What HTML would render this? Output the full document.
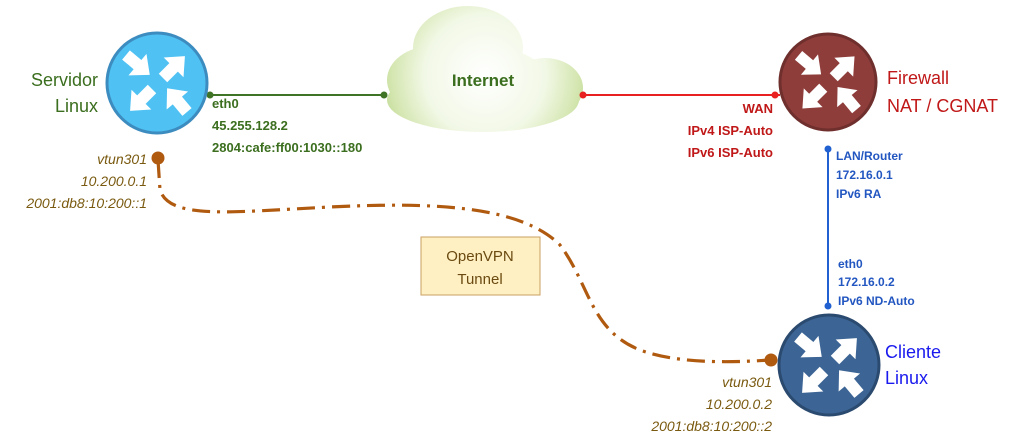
<!DOCTYPE html>
<html><head><meta charset="utf-8"><style>
html,body{margin:0;padding:0;background:#fff;}
svg{display:block;font-family:"Liberation Sans",sans-serif;}
</style></head><body>
<svg width="1010" height="439" viewBox="0 0 1010 439" xmlns="http://www.w3.org/2000/svg">
<defs>
<radialGradient id="cg" gradientUnits="userSpaceOnUse" cx="485" cy="75" r="110">
<stop offset="0" stop-color="#ffffff"/><stop offset="0.55" stop-color="#f2f8e6"/><stop offset="0.85" stop-color="#d4e6b0"/><stop offset="1" stop-color="#bcd890"/>
</radialGradient>
<polygon id="ar" points="0,-6 15,-6 15,-14 31,0 15,14 15,6 0,6" fill="#fff"/>
<g id="ico">
<use href="#ar" transform="translate(6,-5) rotate(-45)"/>
<use href="#ar" transform="translate(-31,-28) rotate(40)"/>
<use href="#ar" transform="translate(-5,6) rotate(135)"/>
<use href="#ar" transform="translate(30,29) rotate(-130)"/>
</g>
</defs>

<!-- cloud -->
<g fill="url(#cg)">
<ellipse cx="483" cy="100" rx="96" ry="32"/>
<ellipse cx="432" cy="80" rx="45" ry="34"/>
<ellipse cx="468" cy="48" rx="55" ry="42"/>
<ellipse cx="545" cy="88" rx="38" ry="30"/>
<ellipse cx="480" cy="85" rx="70" ry="40"/>
</g>
<text x="483" y="86" font-size="17" font-weight="bold" fill="#3b6e1e" text-anchor="middle">Internet</text>

<!-- links -->
<line x1="210" y1="95" x2="384" y2="95" stroke="#3f7427" stroke-width="2"/>
<circle cx="210" cy="95" r="3.5" fill="#3f7427"/><circle cx="384" cy="95" r="3.5" fill="#3f7427"/>
<line x1="583" y1="95" x2="780" y2="95" stroke="#e82020" stroke-width="2"/>
<circle cx="583" cy="95" r="3.5" fill="#e82020"/><circle cx="775" cy="95" r="3.5" fill="#e82020"/>
<line x1="828" y1="148" x2="828" y2="306" stroke="#2060d0" stroke-width="2"/>
<circle cx="828" cy="149" r="3.5" fill="#2060d0"/><circle cx="828" cy="306" r="3.5" fill="#2060d0"/>

<!-- tunnel -->
<path d="M158,160 L160,190 C170,220 230,212 330,207 C430,202 520,205 560,245 C590,285 590,330 640,350 C680,365 740,362 770,360" fill="none" stroke="#b05a10" stroke-width="3.2" stroke-dasharray="18,7,3,7"/>
<circle cx="158" cy="158" r="6.5" fill="#b05a10"/>
<circle cx="771" cy="360" r="6.5" fill="#b05a10"/>

<!-- nodes -->
<circle cx="157" cy="83" r="50" fill="#4fc1f3" stroke="#3d8cc0" stroke-width="3"/>
<use href="#ico" transform="translate(157,83)"/>
<circle cx="828" cy="82" r="48" fill="#8f3d3b" stroke="#6f2f2d" stroke-width="3"/>
<use href="#ico" transform="translate(828,82) scale(0.95)"/>
<circle cx="829" cy="365" r="50" fill="#3c6595" stroke="#2b4a6f" stroke-width="3"/>
<use href="#ico" transform="translate(829,365)"/>

<!-- labels -->
<g font-size="18" fill="#3b6e1e" text-anchor="end">
<text x="98" y="86">Servidor</text><text x="98" y="112">Linux</text></g>
<g font-size="13" font-weight="bold" fill="#3b6e1e">
<text x="212" y="108">eth0</text><text x="212" y="130">45.255.128.2</text><text x="212" y="152">2804:cafe:ff00:1030::180</text></g>
<g font-size="14" font-style="italic" fill="#7a5a10" text-anchor="end">
<text x="147" y="164">vtun301</text><text x="147" y="186">10.200.0.1</text><text x="147" y="208">2001:db8:10:200::1</text>
<text x="772" y="387">vtun301</text><text x="772" y="409">10.200.0.2</text><text x="772" y="431">2001:db8:10:200::2</text></g>
<g font-size="18" fill="#c01818">
<text x="887" y="84">Firewall</text><text x="887" y="112">NAT / CGNAT</text></g>
<g font-size="13" font-weight="bold" fill="#c01818" text-anchor="end">
<text x="773" y="113">WAN</text><text x="773" y="135">IPv4 ISP-Auto</text><text x="773" y="157">IPv6 ISP-Auto</text></g>
<g font-size="12" font-weight="bold" fill="#2256c0">
<text x="836" y="160">LAN/Router</text><text x="836" y="179">172.16.0.1</text><text x="836" y="198">IPv6 RA</text>
<text x="838" y="268">eth0</text><text x="838" y="286">172.16.0.2</text><text x="838" y="305">IPv6 ND-Auto</text></g>
<g font-size="18" fill="#1a1aee">
<text x="885" y="358">Cliente</text><text x="885" y="384">Linux</text></g>

<rect x="421" y="237" width="119" height="58" fill="#fff0c4" stroke="#caa060" stroke-width="1"/>
<g font-size="15" fill="#6a4a10" text-anchor="middle"><text x="480" y="261">OpenVPN</text><text x="480" y="284">Tunnel</text></g>
</svg>
</body></html>
